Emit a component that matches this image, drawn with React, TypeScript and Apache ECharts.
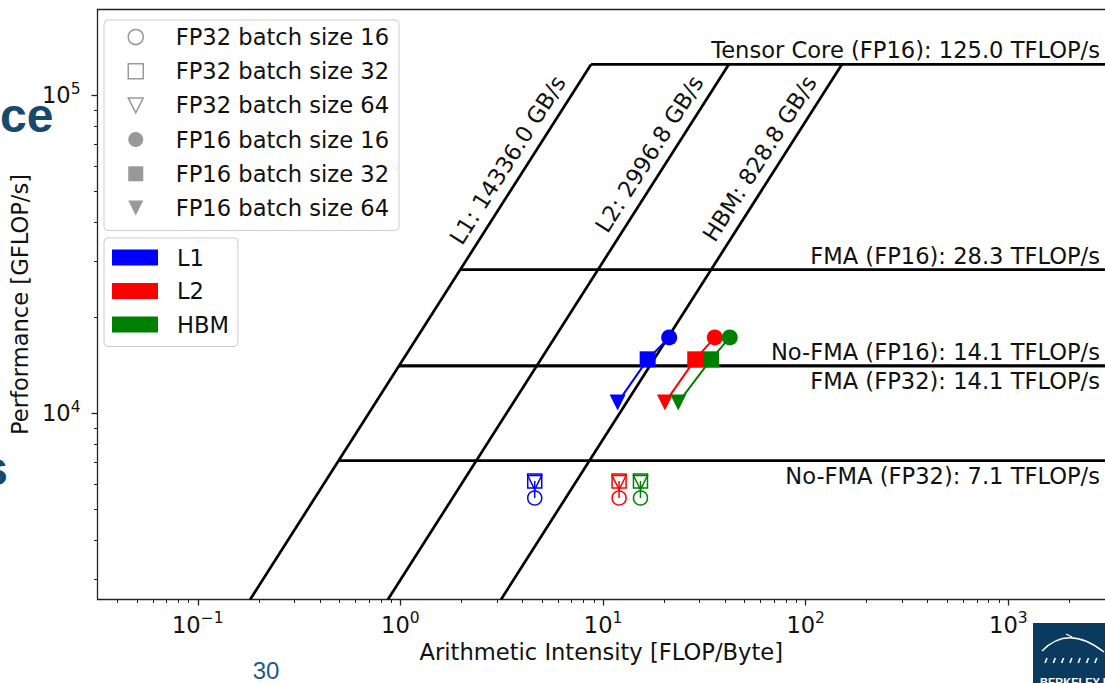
import React, { useEffect, useRef } from "react";
import * as echarts from "echarts";

// ---- axis ranges (FLOP/Byte, GFLOP/s) ----
const X_MIN = 0.032;
const X_MAX = 3000;
const Y_MIN = 2600;
const Y_MAX = 186000;

const X_DECADES = [-1, 0, 1, 2, 3];
const Y_DECADES = [4, 5];
const MINOR_STEPS = [2, 3, 4, 5, 6, 7, 8, 9];

// ---- compute ceilings ----
const CEILING_NAMES = [
  "Tensor Core (FP16)",
  "FMA (FP16)",
  "No-FMA (FP16)",
  "FMA (FP32)",
  "No-FMA (FP32)",
];
const CEILING_TFLOPS = [125.0, 28.3, 14.1, 14.1, 7.1];
const CEILING_LABEL_BELOW = [false, false, false, true, true];

// ---- memory ceilings ----
const MEM_LEVELS = ["L1", "L2", "HBM"];
const MEM_BANDWIDTH = [14336.0, 2996.8, 828.8]; // GB/s
const MEM_COLORS = ["#0000ff", "#ff0000", "#008000"];

// ---- measured kernels (batch sizes 16, 32, 64) ----
const BATCH_SIZES = [16, 32, 64];
const FP16_PERF = [17330, 14790, 10810];
const FP16_AI_L1 = [21.2, 16.6, 11.8];
const FP16_AI_L2 = [35.6, 28.5, 20.2];
const FP16_AI_HBM = [42.2, 34.1, 23.5];
const FP32_PERF = [5420, 6130, 6060];
const FP32_AI_L1 = [4.6, 4.6, 4.6];
const FP32_AI_L2 = [12.0, 12.0, 12.0];
const FP32_AI_HBM = [15.3, 15.3, 15.3];

const FONT = "'DejaVu Sans', sans-serif";
const FS = 22.6;
const TEXT = "#111111";
const AXIS_COLOR = "#222222";
const MARKER_GRAY = "#808080";
const TRI_DOWN = "path://M0,0L2,0L1,2Z";
const BATCH_SYMBOLS = ["circle", "rect", TRI_DOWN];
const SLIDE_FONT = "'Liberation Sans', Arial, sans-serif";

const lg = (v: number) => Math.log10(v);

function decadeLabel(v: number) {
  const e = Math.round(v);
  return `{b|10}{s|${e < 0 ? "\u2212" : ""}${Math.abs(e)}}`;
}

function minorPositions(lo: number, hi: number) {
  const out: number[] = [];
  for (let d = Math.floor(lo); d <= Math.ceil(hi); d++) {
    for (const k of MINOR_STEPS) {
      const v = d + Math.log10(k);
      if (v > lo && v < hi) out.push(v);
    }
  }
  return out;
}

const LABEL_RICH = {
  b: { fontFamily: FONT, fontSize: FS, color: TEXT },
  s: { fontFamily: FONT, fontSize: 15.5, color: TEXT, padding: [0, 0, 13, 0] },
};

// value axis in log10 units, used only for ticks, labels and spines
function decadeAxis(lo: number, hi: number, position: string, extra: any) {
  return {
    type: "value",
    min: lo,
    max: hi,
    position,
    axisLine: { show: false, onZero: false },
    axisTick: { show: false },
    axisLabel: { show: false },
    splitLine: { show: false },
    ...extra,
  };
}

function buildOption() {
  const topPeak = Math.max(...CEILING_TFLOPS) * 1000;
  const roofLine = { color: "#000000", width: 2.7 };

  const bandwidthSeries = MEM_BANDWIDTH.map((bw, i) => ({
    type: "line",
    name: `roof ${MEM_LEVELS[i]}`,
    data: [
      [Y_MIN / bw, Y_MIN],
      [topPeak / bw, topPeak],
    ],
    symbol: "none",
    lineStyle: roofLine,
    silent: true,
    z: 2,
  }));

  const ceilingSeries = CEILING_TFLOPS.map((t, i) => ({
    type: "line",
    name: `roof ${CEILING_NAMES[i]}`,
    data: [
      [(t * 1000) / MEM_BANDWIDTH[0], t * 1000],
      [X_MAX, t * 1000],
    ],
    symbol: "none",
    lineStyle: roofLine,
    silent: true,
    z: 2,
  }));

  const fp16Ai = [FP16_AI_L1, FP16_AI_L2, FP16_AI_HBM];
  const fp32Ai = [FP32_AI_L1, FP32_AI_L2, FP32_AI_HBM];

  const fp16Series = MEM_LEVELS.map((lvl, m) => ({
    type: "line",
    name: lvl,
    data: BATCH_SIZES.map((_, b) => ({
      value: [fp16Ai[m][b], FP16_PERF[b]],
      symbol: BATCH_SYMBOLS[b],
      symbolSize: 16,
      itemStyle: { color: MEM_COLORS[m], borderWidth: 0 },
    })),
    lineStyle: { color: MEM_COLORS[m], width: 2 },
    itemStyle: { color: MEM_COLORS[m] },
    silent: true,
    z: 4,
  }));

  const fp32Series = MEM_LEVELS.map((lvl, m) => ({
    type: "line",
    name: lvl,
    data: BATCH_SIZES.map((_, b) => ({
      value: [fp32Ai[m][b], FP32_PERF[b]],
      symbol: BATCH_SYMBOLS[b],
      symbolSize: 14,
      itemStyle: {
        color: "rgba(0,0,0,0)",
        borderColor: MEM_COLORS[m],
        borderWidth: 1.5,
      },
    })),
    lineStyle: { color: MEM_COLORS[m], width: 1.5 },
    itemStyle: { color: MEM_COLORS[m] },
    silent: true,
    z: 4,
  }));

  // legend-only entries for precision / batch size
  const keyEntries = [
    { name: "FP32 batch size 16", icon: "circle", hollow: true },
    { name: "FP32 batch size 32", icon: "rect", hollow: true },
    { name: "FP32 batch size 64", icon: TRI_DOWN, hollow: true },
    { name: "FP16 batch size 16", icon: "circle", hollow: false },
    { name: "FP16 batch size 32", icon: "rect", hollow: false },
    { name: "FP16 batch size 64", icon: TRI_DOWN, hollow: false },
  ];
  const keyStyle = (hollow: boolean) =>
    hollow
      ? { color: "rgba(0,0,0,0)", borderColor: MARKER_GRAY, borderWidth: 1.5 }
      : { color: MARKER_GRAY, borderColor: MARKER_GRAY, borderWidth: 0 };

  const keySeries = keyEntries.map((k) => ({
    type: "scatter",
    name: k.name,
    data: [],
    symbol: k.icon,
    symbolSize: 15,
    itemStyle: keyStyle(k.hollow),
  }));

  const legendBox = {
    backgroundColor: "rgba(255,255,255,0.85)",
    borderColor: "#cccccc",
    borderWidth: 1,
    borderRadius: 4,
    orient: "vertical",
    selectedMode: false,
  };

  const lx0 = lg(X_MIN);
  const lx1 = lg(X_MAX);
  const ly0 = lg(Y_MIN);
  const ly1 = lg(Y_MAX);

  return {
    animation: false,
    backgroundColor: "#ffffff",
    grid: { left: 94, right: 0, top: 9.5, bottom: 83.5, containLabel: false },
    legend: [
      {
        ...legendBox,
        left: 104,
        top: 20,
        padding: [5.5, 10, 11, 23.5],
        itemWidth: 15,
        itemHeight: 15,
        itemGap: 11.2,
        textStyle: {
          fontFamily: FONT,
          fontSize: FS,
          lineHeight: 22,
          color: TEXT,
          padding: [0, 0, 0, 27.5],
        },
        data: keyEntries.map((k) => ({
          name: k.name,
          icon: k.icon,
          itemStyle: keyStyle(k.hollow),
        })),
      },
      {
        ...legendBox,
        left: 104,
        top: 238,
        padding: [8, 9, 10.5, 8],
        itemWidth: 46,
        itemHeight: 16,
        itemGap: 10.5,
        textStyle: {
          fontFamily: FONT,
          fontSize: FS,
          lineHeight: 22,
          color: TEXT,
          padding: [0, 0, 0, 14],
        },
        data: MEM_LEVELS.map((lvl, m) => ({
          name: lvl,
          icon: "rect",
          itemStyle: { color: MEM_COLORS[m], borderWidth: 0 },
        })),
      },
    ],
    xAxis: [
      {
        type: "log",
        logBase: 10,
        min: X_MIN,
        max: X_MAX,
        position: "bottom",
        axisLine: {
          show: true,
          onZero: false,
          lineStyle: { color: AXIS_COLOR, width: 1.3 },
        },
        axisTick: { show: false },
        minorTick: { show: false },
        axisLabel: { show: false },
        splitLine: { show: false },
      },
      decadeAxis(lx0, lx1, "bottom", {
        axisTick: {
          show: true,
          customValues: X_DECADES,
          length: 6,
          lineStyle: { color: AXIS_COLOR, width: 1.3 },
        },
        axisLabel: {
          show: true,
          customValues: X_DECADES,
          formatter: decadeLabel,
          rich: LABEL_RICH,
          margin: 10.5,
        },
        name: "Arithmetic Intensity [FLOP/Byte]",
        nameLocation: "middle",
        nameGap: 38.5,
        nameTextStyle: { fontFamily: FONT, fontSize: FS, color: TEXT },
      }),
      decadeAxis(lx0, lx1, "bottom", {
        axisTick: {
          show: true,
          customValues: minorPositions(lx0, lx1),
          length: 3.5,
          lineStyle: { color: AXIS_COLOR, width: 1 },
        },
      }),
      decadeAxis(lx0, lx1, "top", {
        axisLine: {
          show: true,
          onZero: false,
          lineStyle: { color: AXIS_COLOR, width: 1.3 },
        },
      }),
    ],
    yAxis: [
      {
        type: "log",
        logBase: 10,
        min: Y_MIN,
        max: Y_MAX,
        position: "left",
        axisLine: {
          show: true,
          onZero: false,
          lineStyle: { color: AXIS_COLOR, width: 1.3 },
        },
        axisTick: { show: false },
        minorTick: { show: false },
        axisLabel: { show: false },
        splitLine: { show: false },
      },
      decadeAxis(ly0, ly1, "left", {
        axisTick: {
          show: true,
          customValues: Y_DECADES,
          length: 6,
          lineStyle: { color: AXIS_COLOR, width: 1.3 },
        },
        axisLabel: {
          show: true,
          customValues: Y_DECADES,
          formatter: decadeLabel,
          rich: LABEL_RICH,
          margin: 17,
        },
        name: "Performance [GFLOP/s]",
        nameLocation: "middle",
        nameGap: 63,
        nameRotate: 90,
        nameTextStyle: { fontFamily: FONT, fontSize: FS, color: TEXT },
      }),
      decadeAxis(ly0, ly1, "left", {
        axisTick: {
          show: true,
          customValues: minorPositions(ly0, ly1),
          length: 3.5,
          lineStyle: { color: AXIS_COLOR, width: 1 },
        },
      }),
    ],
    series: [
      ...bandwidthSeries,
      ...ceilingSeries,
      ...fp32Series,
      ...fp16Series,
      ...keySeries,
    ],
  };
}

// Text annotations placed along the roofline, plus the slide decorations.
function buildOverlay(chart: echarts.ECharts) {
  const toPx = (x: number, y: number) =>
    chart.convertToPixel({ xAxisIndex: 0, yAxisIndex: 0 }, [x, y]) as number[];
  const topPeak = Math.max(...CEILING_TFLOPS) * 1000;
  const elements: any[] = [];

  MEM_BANDWIDTH.forEach((bw, i) => {
    const p0 = toPx(topPeak / bw, topPeak);
    const p1 = toPx(topPeak / bw / 10, topPeak / 10);
    const dx = p0[0] - p1[0];
    const dy = p0[1] - p1[1];
    const len = Math.hypot(dx, dy);
    const ux = dx / len;
    const uy = dy / len;
    const nx = uy;
    const ny = -ux;
    const along = -28;
    const off = 19;
    elements.push({
      type: "text",
      x: p0[0] + ux * along + nx * off,
      y: p0[1] + uy * along + ny * off,
      rotation: Math.atan2(-dy, dx),
      silent: true,
      style: {
        text: `${MEM_LEVELS[i]}: ${bw.toFixed(1)} GB/s`,
        fontFamily: FONT,
        fontSize: FS,
        fill: TEXT,
        align: "right",
        verticalAlign: "middle",
      },
    });
  });

  CEILING_TFLOPS.forEach((t, i) => {
    const p = toPx(X_MAX, t * 1000);
    elements.push({
      type: "text",
      x: p[0] - 5,
      y: p[1] + (CEILING_LABEL_BELOW[i] ? 15 : -14),
      silent: true,
      style: {
        text: `${CEILING_NAMES[i]}: ${t.toFixed(1)} TFLOP/s`,
        fontFamily: FONT,
        fontSize: FS,
        fill: TEXT,
        align: "right",
        verticalAlign: "middle",
      },
    });
  });

  // slide decorations around the figure
  const slideBlue = "#17496c";
  elements.push(
    {
      type: "text",
      x: 0,
      y: 115,
      silent: true,
      style: {
        text: "ce",
        fontFamily: SLIDE_FONT,
        fontWeight: "bold",
        fontSize: 48,
        fill: slideBlue,
        align: "left",
        verticalAlign: "middle",
      },
    },
    {
      type: "text",
      x: 8,
      y: 468,
      silent: true,
      style: {
        text: "s",
        fontFamily: SLIDE_FONT,
        fontWeight: "bold",
        fontSize: 48,
        fill: slideBlue,
        align: "right",
        verticalAlign: "middle",
      },
    },
    {
      type: "text",
      x: 266,
      y: 670,
      silent: true,
      style: {
        text: "30",
        fontFamily: SLIDE_FONT,
        fontSize: 24,
        fill: "#1f5a82",
        align: "center",
        verticalAlign: "middle",
      },
    },
    {
      type: "group",
      silent: true,
      children: [
        {
          type: "rect",
          shape: { x: 1033, y: 623, width: 80, height: 70 },
          style: { fill: "#0a3a5e" },
        },
        {
          type: "bezierCurve",
          shape: { x1: 1042, y1: 651, cpx1: 1068, cpy1: 624, x2: 1104, y2: 652 },
          style: { stroke: "#ffffff", lineWidth: 1.5, fill: null },
        },
        {
          type: "line",
          shape: { x1: 1066, y1: 634, x2: 1072, y2: 637 },
          style: { stroke: "#ffffff", lineWidth: 1.2 },
        },
        ...[0, 1, 2, 3, 4, 5, 6].map((k) => ({
          type: "line",
          shape: { x1: 1045 + k * 8.3, y1: 663, x2: 1047 + k * 8.3, y2: 658 },
          style: { stroke: "#ffffff", lineWidth: 1.6 },
        })),
        {
          type: "text",
          x: 1040,
          y: 676,
          style: {
            text: "BERKELEY LAB",
            fontFamily: SLIDE_FONT,
            fontWeight: "bold",
            fontSize: 11,
            fill: "#ffffff",
            align: "left",
            verticalAlign: "top",
          },
        },
      ],
    }
  );

  return { elements };
}

export default function App() {
  const ref = useRef<HTMLDivElement>(null);

  useEffect(() => {
    const el = ref.current;
    if (!el) return;
    const chart = echarts.init(el, null, { renderer: "svg" });
    chart.setOption(buildOption() as any);
    chart.setOption({ graphic: buildOverlay(chart) } as any);
    return () => chart.dispose();
  }, []);

  return (
    <div
      ref={ref}
      style={{
        position: "absolute",
        left: 0,
        top: 0,
        width: 1105,
        height: 683,
        overflow: "hidden",
      }}
    />
  );
}
